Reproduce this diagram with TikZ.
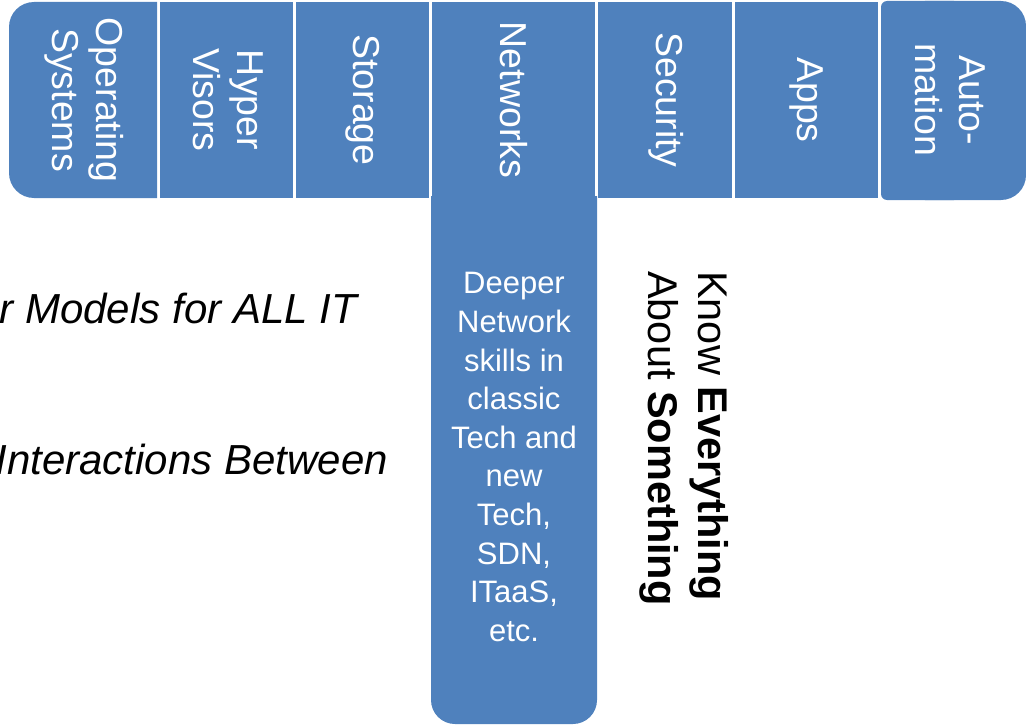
\documentclass[tikz,border=0pt]{standalone}
\usepackage{fontspec}
\setmainfont{Liberation Sans}
\definecolor{boxblue}{HTML}{4F81BD}
\tikzset{
  lbl/.style={rotate=-90, align=center, text=white, inner sep=0pt,
    font=\fontsize{37.5}{44}\selectfont},
  bodytxt/.style={align=center, text=white, inner sep=0pt,
    font=\fontsize{31}{38.6}\selectfont},
  sidetxt/.style={inner sep=0pt, text=black,
    font=\fontsize{42}{50}\selectfont\itshape},
  tile/.style={fill=boxblue}
}
\begin{document}
\begin{tikzpicture}[x=1pt,y=-1pt]
\useasboundingbox (0,0) rectangle (1026,725);
% Operating Systems box (rounded left corners)
\begin{scope}
  \clip (9,2) rectangle (157,198);
  \fill[tile, rounded corners=25pt] (9,2) rectangle (220,198);
\end{scope}
% plain tiles
\fill[tile] (160,2) rectangle (293,198);
\fill[tile] (296,2) rectangle (429,198);
\fill[tile] (432,2) rectangle (595,199);
\fill[tile] (598,2) rectangle (732,198);
\fill[tile] (735,2) rectangle (878,198);
% Networks lower box (rounded bottom corners)
\begin{scope}
  \clip (431,196) rectangle (597,724);
  \fill[tile, rounded corners=24pt] (431,150) rectangle (597,724);
\end{scope}
% Automation box
\fill[tile, rounded corners=6pt] (881,1) rectangle (960,200);
\fill[tile, rounded corners=25pt] (900,1) rectangle (1026,200);
% labels
\node[lbl] (os) at (84,100) {Operating\\Systems};
\node[lbl] (hv) at (228,100) {Hyper\\Visors};
\node[lbl] (st) at (363,100) {Storage};
\node[lbl] (nw) at (514,100) {Networks};
\node[lbl] (se) at (666,100) {Security};
\node[lbl] (ap) at (807,100) {Apps};
\node[lbl] (au) at (950,100) {Auto-\\mation};
\node[bodytxt] (deep) at (514,457) {Deeper\\Network\\skills in\\classic\\Tech and\\new\\Tech,\\SDN,\\ITaaS,\\etc.};
\node[rotate=-90, align=left, anchor=west, inner sep=0pt,
  font=\fontsize{41.5}{50}\selectfont] (know) at (684.5,271)
  {Know \textbf{Everything}\\About \textbf{Something}};
\node[sidetxt, anchor=base east] (models) at (357,323) {r Models for ALL IT};
\node[sidetxt, anchor=base east] (inter) at (388,474) {Interactions Between};
\end{tikzpicture}
\end{document}
